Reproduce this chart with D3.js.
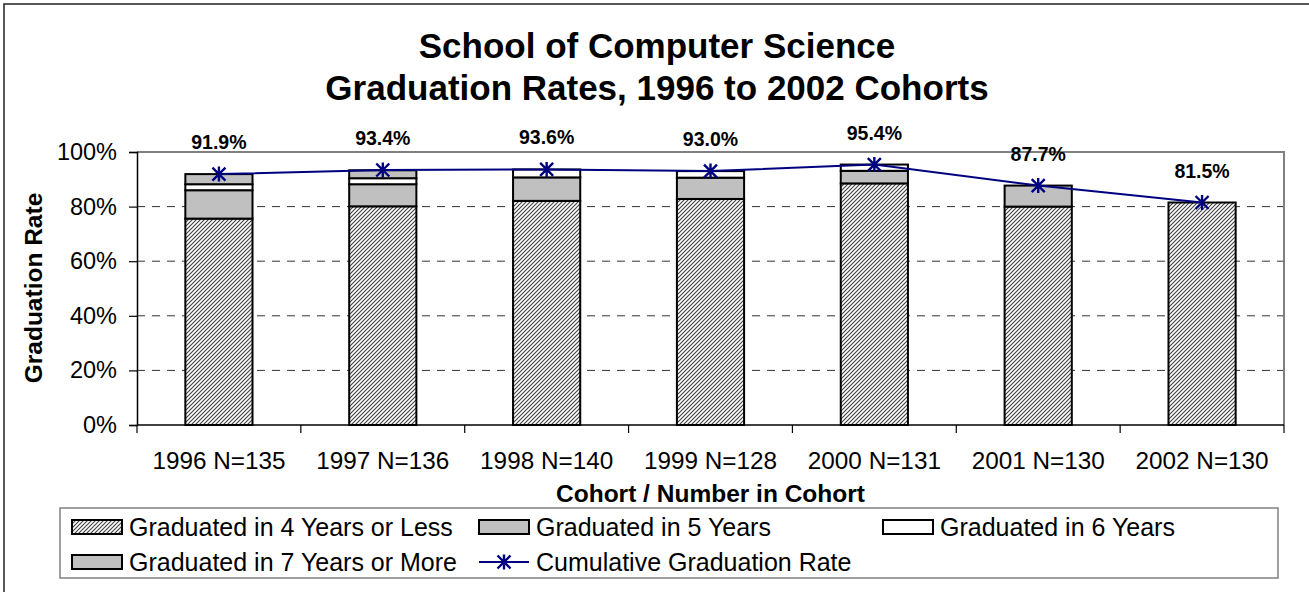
<!DOCTYPE html>
<html>
<head>
<meta charset="utf-8">
<script src="https://cdn.jsdelivr.net/npm/d3@7"></script>
<style>
  html, body { margin: 0; padding: 0; background: #fff; }
  svg { display: block; font-family: "Liberation Sans", Arial, sans-serif; }
</style>
</head>
<body>
<svg id="chart" width="1309" height="592"></svg>
<script>
const categories = ["1996 N=135", "1997 N=136", "1998 N=140", "1999 N=128", "2000 N=131", "2001 N=130", "2002 N=130"];
const fourYears   = [75.6, 80.1, 82.1, 82.8, 88.5, 80.0, 81.5];
const fiveYears   = [10.4, 8.1, 8.6, 7.8, 4.6, 7.7, 0];
const sixYears    = [2.2, 2.2, 2.9, 2.4, 2.3, 0, 0];
const sevenYears  = [3.7, 2.9, 0, 0, 0, 0, 0];
const cumulative  = [91.9, 93.4, 93.6, 93.0, 95.4, 87.7, 81.5];
const seriesNames = ["Graduated in 4 Years or Less", "Graduated in 5 Years", "Graduated in 6 Years", "Graduated in 7 Years or More"];
const lineName = "Cumulative Graduation Rate";
const yTicks = [0, 20, 40, 60, 80, 100];
const titleLines = ["School of Computer Science", "Graduation Rates, 1996 to 2002 Cohorts"];

const svg = d3.select("#chart");
const FONT = "'Liberation Sans', Arial, sans-serif";

// pattern
const defs = svg.append("defs");
const pat = defs.append("pattern").attr("id", "hatch").attr("patternUnits", "userSpaceOnUse")
  .attr("width", 4).attr("height", 4);
pat.append("rect").attr("width", 4).attr("height", 4).attr("fill", "#fff");
pat.append("path").attr("d", "M-1,1 L1,-1 M0,4 L4,0 M3,5 L5,3")
  .attr("stroke", "#404040").attr("stroke-width", 1.1);

const fills = ["url(#hatch)", "#c0c0c0", "#ffffff", "#c0c0c0"];

// outer frame
svg.append("rect").attr("x", 4).attr("y", 4).attr("width", 1330).attr("height", 620)
  .attr("fill", "none").attr("stroke", "#222").attr("stroke-width", 1.5);

const m = {left: 137, right: 1284, top: 152, bottom: 425};

const x = d3.scaleBand().domain(categories).range([m.left, m.right]).paddingInner(0.59).paddingOuter(0.295);
const y = d3.scaleLinear().domain([0, 100]).range([m.bottom, m.top]);

// title
svg.append("text").attr("x", 657).attr("y", 58).attr("text-anchor", "middle")
  .attr("font-size", 35).attr("font-weight", "bold").text(titleLines[0]);
svg.append("text").attr("x", 657).attr("y", 100).attr("text-anchor", "middle")
  .attr("font-size", 35).attr("font-weight", "bold").text(titleLines[1]);

// gridlines
svg.append("g").selectAll("line").data(yTicks.filter(t => t > 0 && t < 100)).join("line")
  .attr("x1", m.left).attr("x2", m.right)
  .attr("y1", d => y(d)).attr("y2", d => y(d))
  .attr("stroke", "#333").attr("stroke-width", 1).attr("stroke-dasharray", "8,7");

// plot area border top/right
svg.append("path")
  .attr("d", `M${m.left},${m.top} L${m.right},${m.top} L${m.right},${m.bottom}`)
  .attr("fill", "none").attr("stroke", "#808080").attr("stroke-width", 2);

// stacked bars
const rows = categories.map((c, i) => ({cat: c, s0: fourYears[i], s1: fiveYears[i], s2: sixYears[i], s3: sevenYears[i]}));
const stack = d3.stack().keys(["s0", "s1", "s2", "s3"])(rows);
stack.forEach((layer, li) => {
  svg.append("g").selectAll("rect").data(layer.filter(d => d[1] - d[0] > 0)).join("rect")
    .attr("x", d => x(d.data.cat))
    .attr("width", x.bandwidth())
    .attr("y", d => y(d[1]))
    .attr("height", d => y(d[0]) - y(d[1]))
    .attr("fill", fills[li])
    .attr("stroke", "#000").attr("stroke-width", 2);
});

// axes
const yAxis = svg.append("g").attr("transform", `translate(${m.left},0)`)
  .call(d3.axisLeft(y).tickValues(yTicks).tickFormat(d => d + "%").tickSize(8).tickPadding(12));
yAxis.select(".domain").attr("stroke", "#000").attr("stroke-width", 1.5);
yAxis.selectAll(".tick line").attr("stroke", "#000").attr("stroke-width", 1.2);
yAxis.selectAll("text").attr("font-size", 23.5).attr("font-family", FONT).attr("fill", "#000");

const xAxis = svg.append("g").attr("transform", `translate(0,${m.bottom})`)
  .call(d3.axisBottom(x).tickSize(0).tickPadding(27));
xAxis.select(".domain").remove();
xAxis.selectAll("text").attr("font-size", 24.3).attr("font-family", FONT).attr("fill", "#000");
svg.append("line").attr("x1", m.left).attr("x2", m.right).attr("y1", m.bottom).attr("y2", m.bottom)
  .attr("stroke", "#000").attr("stroke-width", 1.5);
const bounds = categories.map(c => x(c) - x.step() * x.paddingInner() / 2).concat([m.right]);
svg.append("g").selectAll("line").data(bounds).join("line")
  .attr("x1", d => d).attr("x2", d => d).attr("y1", m.bottom).attr("y2", m.bottom + 8)
  .attr("stroke", "#000").attr("stroke-width", 1.2);

// axis titles
svg.append("text").attr("transform", `translate(42,288) rotate(-90)`).attr("text-anchor", "middle")
  .attr("font-size", 24.5).attr("font-weight", "bold").text("Graduation Rate");
svg.append("text").attr("x", (m.left + m.right) / 2).attr("y", 502).attr("text-anchor", "middle")
  .attr("font-size", 24.5).attr("font-weight", "bold").text("Cohort / Number in Cohort");

// cumulative line
const cx = c => x(c) + x.bandwidth() / 2;
const line = d3.line().x((d, i) => cx(categories[i])).y(d => y(d));
svg.append("path").datum(cumulative).attr("d", line)
  .attr("fill", "none").attr("stroke", "#000080").attr("stroke-width", 2);

function star(g, px, py, s) {
  const h = s / 2;
  g.append("path")
    .attr("d", `M${px - h},${py - h} L${px + h},${py + h} M${px - h},${py + h} L${px + h},${py - h} M${px},${py - h - 1} L${px},${py + h + 1}`)
    .attr("stroke", "#000080").attr("stroke-width", 2.4).attr("fill", "none");
}
const mk = svg.append("g");
cumulative.forEach((v, i) => star(mk, cx(categories[i]), y(v), 13));

// data labels
svg.append("g").selectAll("text").data(cumulative).join("text")
  .attr("x", (d, i) => cx(categories[i]))
  .attr("y", d => y(d) - 25)
  .attr("text-anchor", "middle").attr("font-size", 19.5).attr("font-weight", "bold")
  .text(d => d.toFixed(1) + "%");

// legend
const lg = svg.append("g");
lg.append("rect").attr("x", 60).attr("y", 508).attr("width", 1218).attr("height", 70)
  .attr("fill", "#fff").attr("stroke", "#808080").attr("stroke-width", 1.5);
const legendItems = [
  {name: seriesNames[0], col: 72, row: 527, type: 0},
  {name: seriesNames[1], col: 479, row: 527, type: 1},
  {name: seriesNames[2], col: 883, row: 527, type: 2},
  {name: seriesNames[3], col: 72, row: 562, type: 3},
  {name: lineName, col: 479, row: 562, type: "line"}
];
legendItems.forEach(it => {
  if (it.type === "line") {
    lg.append("line").attr("x1", it.col).attr("x2", it.col + 50).attr("y1", it.row).attr("y2", it.row)
      .attr("stroke", "#000080").attr("stroke-width", 2);
    star(lg, it.col + 25, it.row, 13);
  } else {
    lg.append("rect").attr("x", it.col).attr("y", it.row - 7).attr("width", 50).attr("height", 14)
      .attr("fill", fills[it.type]).attr("stroke", "#000").attr("stroke-width", 2);
  }
  lg.append("text").attr("x", it.col + 57).attr("y", it.row + 8.5)
    .attr("font-size", 25).text(it.name);
});
</script>
</body>
</html>
